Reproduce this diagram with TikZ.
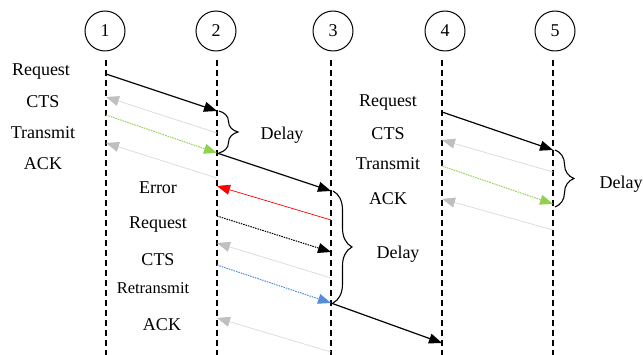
\documentclass[tikz,border=0pt]{standalone}
\usepackage{fontspec}
\setmainfont{Liberation Serif}
\usetikzlibrary{arrows.meta,decorations.pathreplacing}
\definecolor{ackgray}{HTML}{D9D9D9}
\definecolor{tipgray}{HTML}{BFBFBF}
\definecolor{tgreen}{HTML}{92D050}
\definecolor{tblue}{HTML}{558ED5}
\begin{document}
\begin{tikzpicture}[x=1pt,y=-1pt,
  lifeline/.style={line width=1.3pt, dash pattern=on 6pt off 4pt},
  msg/.style={line width=1.2pt, -{Triangle[length=13pt,width=10pt]}},
  ackmsg/.style={draw=ackgray, line width=0.7pt, -{Triangle[length=13pt,width=10pt,color=tipgray]}},
  datamsg/.style={line width=1pt, dash pattern=on 1.5pt off 1pt, -{Triangle[length=13pt,width=10pt]}},
  lbl/.style={font=\fontsize{18}{20}\selectfont, inner sep=0pt},
  slbl/.style={font=\fontsize{16.5}{18}\selectfont, inner sep=0pt},
  station/.style={circle, draw, line width=1pt, minimum size=40pt, inner sep=0pt, font=\fontsize{18}{20}\selectfont},
  delaybrace/.style={line width=1.1pt, decorate, decoration={brace, amplitude=19pt}}
]
\useasboundingbox (0,0) rectangle (643,355);

% stations
\node[station] (s1) at (105,31) {1};
\node[station] (s2) at (216,31) {2};
\node[station] (s3) at (333,31) {3};
\node[station] (s4) at (445,31) {4};
\node[station] (s5) at (555,31) {5};

% lifelines
\coordinate (t1) at (106,60); \coordinate (b1) at (106,355);
\coordinate (t2) at (217,60); \coordinate (b2) at (217,355);
\coordinate (t3) at (331,60); \coordinate (b3) at (331,355);
\coordinate (t4) at (442,60); \coordinate (b4) at (442,355);
\coordinate (t5) at (553,60); \coordinate (b5) at (553,355);
\foreach \i in {1,...,5} \draw[lifeline] (t\i) -- (b\i);

% ---- block 1 : 1 -> 2
\coordinate (a1) at (106,74);  \coordinate (a2) at (217,111);
\coordinate (a3) at (217,133); \coordinate (a4) at (106,97);
\coordinate (a5) at (106,115); \coordinate (a6) at (217,153);
\coordinate (a7) at (217,178); \coordinate (a8) at (106,143);
\draw[msg] (a1) -- (a2);
\draw[ackmsg] (a3) -- (a4);
\draw[datamsg, tgreen] (a5) -- (a6);
\draw[ackmsg] (a7) -- (a8);
\coordinate (br1a) at (219,111); \coordinate (br1b) at (219,153);
\draw[delaybrace] (br1a) -- (br1b);
\node[lbl] (d1) at (282,135) {Delay};
\node[lbl] (lr1) at (41,72) {Request};
\node[lbl] (lc1) at (43,102) {CTS};
\node[lbl] (lt1) at (43,133) {Transmit};
\node[lbl] (la1) at (43,164) {ACK};

% hop 2 -> 3
\coordinate (h1) at (331,191);
\draw[msg] (a6) -- (h1);

% ---- block 2 : 2 <-> 3
\coordinate (e1) at (331,220); \coordinate (e2) at (217,186);
\coordinate (r1) at (217,216); \coordinate (r2) at (331,252);
\coordinate (c1) at (331,278); \coordinate (c2) at (217,243);
\coordinate (x1) at (217,265); \coordinate (x2) at (331,303);
\coordinate (k1) at (331,352); \coordinate (k2) at (217,318);
\draw[red, line width=0.7pt, -{Triangle[length=13pt,width=10pt]}] (e1) -- (e2);
\draw[datamsg, black] (r1) -- (r2);
\draw[ackmsg] (c1) -- (c2);
\draw[datamsg, tblue] (x1) -- (x2);
\draw[ackmsg] (k1) -- (k2);
\coordinate (br2a) at (333,191); \coordinate (br2b) at (333,303);
\draw[delaybrace] (br2a) -- (br2b);
\node[lbl] (d2) at (398,254) {Delay};
\node[lbl] (le2) at (158,188) {Error};
\node[lbl] (lr2) at (158,225) {Request};
\node[lbl] (lc2) at (158,260) {CTS};
\node[slbl] (lx2) at (153,288) {Retransmit};
\node[lbl] (la2) at (162,325) {ACK};

% hop 3 -> 4
\coordinate (h2) at (442,343);
\draw[msg] (x2) -- (h2);

% ---- block 3 : 4 -> 5
\coordinate (f1) at (442,112); \coordinate (f2) at (553,150);
\coordinate (f3) at (553,172); \coordinate (f4) at (442,140);
\coordinate (f5) at (442,166); \coordinate (f6) at (553,204);
\coordinate (f7) at (553,230); \coordinate (f8) at (442,199);
\draw[msg] (f1) -- (f2);
\draw[ackmsg] (f3) -- (f4);
\draw[datamsg, tgreen] (f5) -- (f6);
\draw[ackmsg] (f7) -- (f8);
\coordinate (br3a) at (555,150); \coordinate (br3b) at (555,207);
\draw[delaybrace] (br3a) -- (br3b);
\node[lbl] (d3) at (621,184) {Delay};
\node[lbl] (lr3) at (388,103) {Request};
\node[lbl] (lc3) at (388,134) {CTS};
\node[lbl] (lt3) at (388,164) {Transmit};
\node[lbl] (la3) at (388,199) {ACK};
\end{tikzpicture}
\end{document}
